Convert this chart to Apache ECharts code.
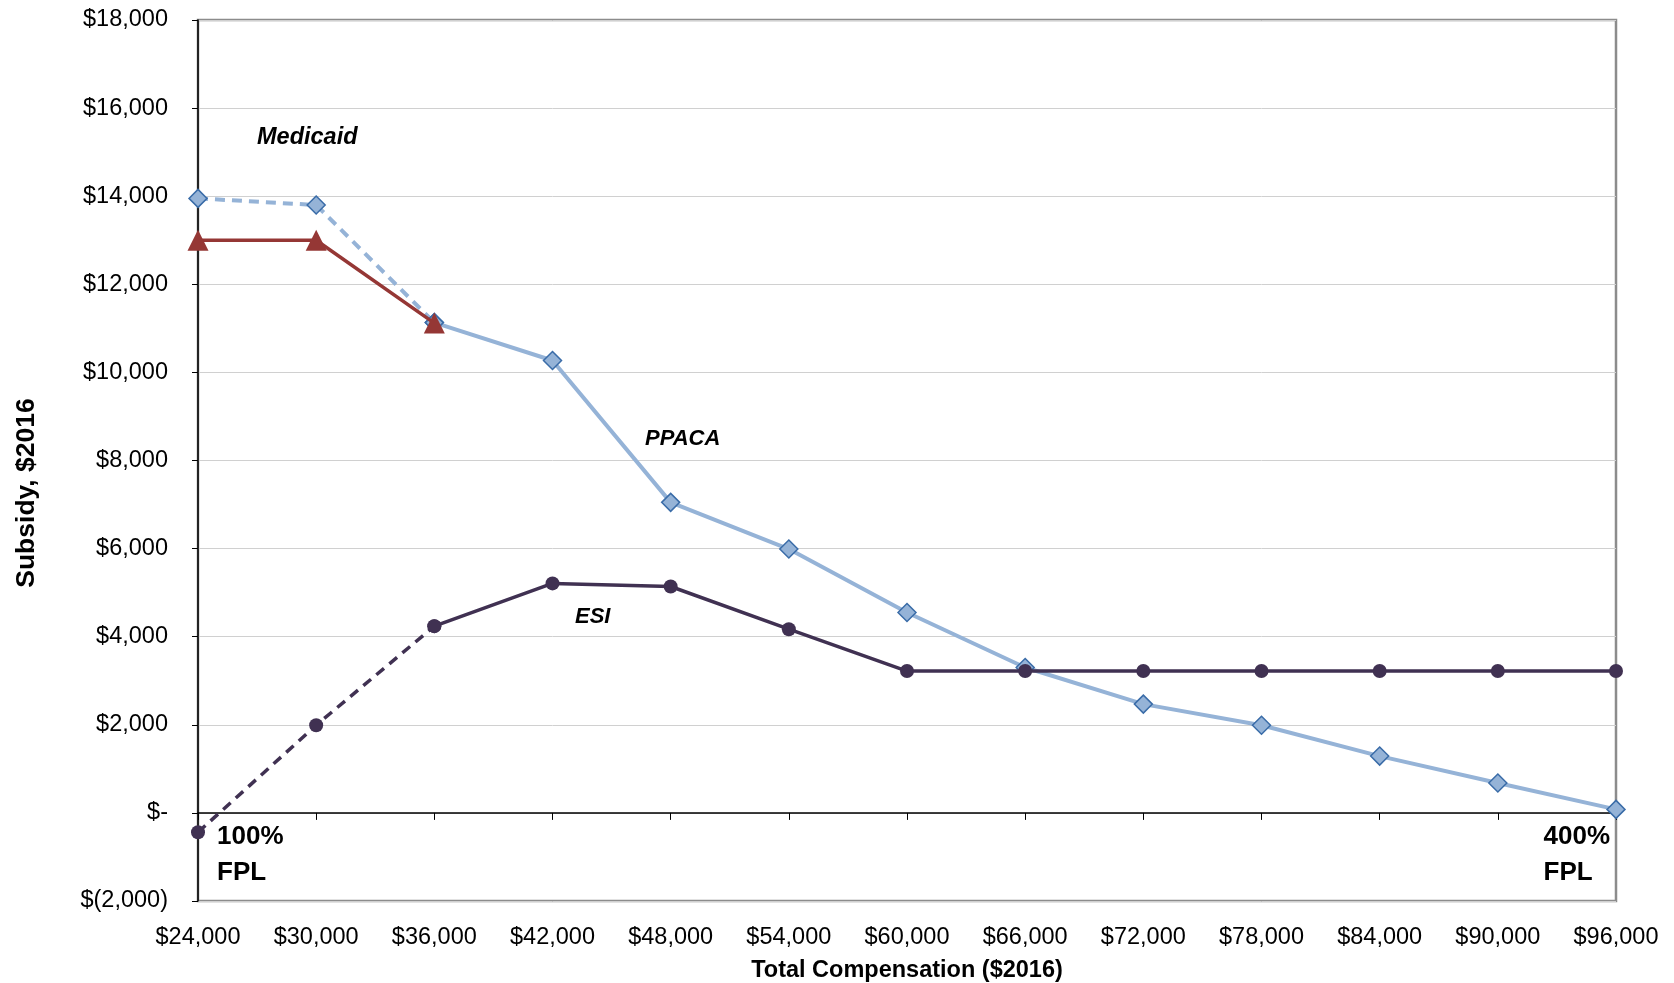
<!DOCTYPE html>
<html><head><meta charset="utf-8">
<script src="https://cdn.jsdelivr.net/npm/echarts@6/dist/echarts.min.js"></script>
<style>html,body{margin:0;padding:0;background:#fff}#c{width:1674px;height:983px}</style>
</head><body><div id="c"></div>
<script>
const categories = ['$24,000','$30,000','$36,000','$42,000','$48,000','$54,000','$60,000','$66,000','$72,000','$78,000','$84,000','$90,000','$96,000'];
const ppacaDashed = [13950, 13800, 11130, null, null, null, null, null, null, null, null, null, null];
const ppacaSolid  = [null, null, 11130, 10270, 7050, 5990, 4550, 3300, 2470, 1990, 1290, 680, 80];
const esiDashed   = [-440, 1990, 4240, null, null, null, null, null, null, null, null, null, null];
const esiSolid    = [null, null, 4240, 5210, 5140, 4170, 3220, 3220, 3220, 3220, 3220, 3220, 3220];
const medicaid    = [13000, 13000, 11120, null, null, null, null, null, null, null, null, null, null];
const yTicks = {'-2000':'$(2,000)','0':'$-'};

const F = 'Liberation Sans, Arial, sans-serif';
const chart = echarts.init(document.getElementById('c'));
const fmt = v => yTicks[String(v)] || ('$' + v.toLocaleString('en-US'));
const ppacaStyle = {symbol:'diamond', symbolSize:18, itemStyle:{color:'#95B3D7', borderColor:'#3A6CA8', borderWidth:1.5}};
const esiStyle = {symbol:'circle', symbolSize:14, itemStyle:{color:'#403152'}};
chart.setOption({
  animation:false,
  grid:{left:198, right:58, top:20, bottom:82, outerBoundsMode:'none', containLabel:false, show:true, borderColor:'#8c8c8c', borderWidth:2.5},
  xAxis:[{
    type:'category', data:categories, boundaryGap:false,
    axisLine:{onZero:true, lineStyle:{color:'#000', width:1.5}},
    axisTick:{show:true, length:7, lineStyle:{color:'#000'}},
    axisLabel:{show:false}, splitLine:{show:false}
  },{
    type:'category', data:categories, boundaryGap:false, position:'bottom',
    axisLine:{show:false, onZero:false}, axisTick:{show:false},
    axisLabel:{show:true, color:'#000', fontSize:23.5, fontFamily:F, margin:25},
    name:'Total Compensation ($2016)', nameLocation:'middle', nameGap:58,
    nameTextStyle:{fontSize:23.5, fontWeight:'bold', fontFamily:F, color:'#000'}
  }],
  yAxis:{
    type:'value', min:-2000, max:18000, interval:2000,
    axisLine:{show:true, lineStyle:{color:'#000', width:1.5}},
    axisTick:{show:true, length:6, lineStyle:{color:'#000'}},
    axisLabel:{formatter:fmt, color:'#000', fontSize:23.5, fontFamily:F, margin:30},
    splitLine:{lineStyle:{color:'#d0d0d0', width:1}}
  },
  series:[
    Object.assign({type:'line', name:'PPACA dashed', data:ppacaDashed, xAxisIndex:0, lineStyle:{color:'#95B3D7', width:4, type:[10,7]}, z:2}, ppacaStyle),
    Object.assign({type:'line', name:'PPACA', data:ppacaSolid, xAxisIndex:0, lineStyle:{color:'#95B3D7', width:4}, z:2}, ppacaStyle),
    Object.assign({type:'line', name:'ESI dashed', data:esiDashed, xAxisIndex:0, lineStyle:{color:'#403152', width:3.5, type:[10,7]}, z:3}, esiStyle),
    Object.assign({type:'line', name:'ESI', data:esiSolid, xAxisIndex:0, lineStyle:{color:'#403152', width:3.5}, z:3}, esiStyle),
    {type:'line', name:'Medicaid', data:medicaid, xAxisIndex:0, symbol:'triangle', symbolSize:21,
     itemStyle:{color:'#953735'}, lineStyle:{color:'#953735', width:3.5}, z:4}
  ],
  graphic:[
    {type:'text', x:27, y:493, rotation:Math.PI/2, style:{text:'Subsidy, $2016', font:'bold 26.5px '+F, fill:'#000', align:'center', verticalAlign:'middle'}},
    {type:'text', left:257, top:126, style:{text:'Medicaid', font:'italic bold 23.5px '+F, fill:'#000'}},
    {type:'text', left:645, top:428, style:{text:'PPACA', font:'italic bold 22px '+F, fill:'#000'}},
    {type:'text', left:575, top:606, style:{text:'ESI', font:'italic bold 22px '+F, fill:'#000'}},
    {type:'text', left:217, top:819, style:{text:'100%\nFPL', font:'bold 26px '+F, fill:'#000', lineHeight:36}},
    {type:'text', right:64, top:819, style:{text:'400%\nFPL', font:'bold 26px '+F, fill:'#000', lineHeight:36, align:'right'}}
  ]
});
</script></body></html>
